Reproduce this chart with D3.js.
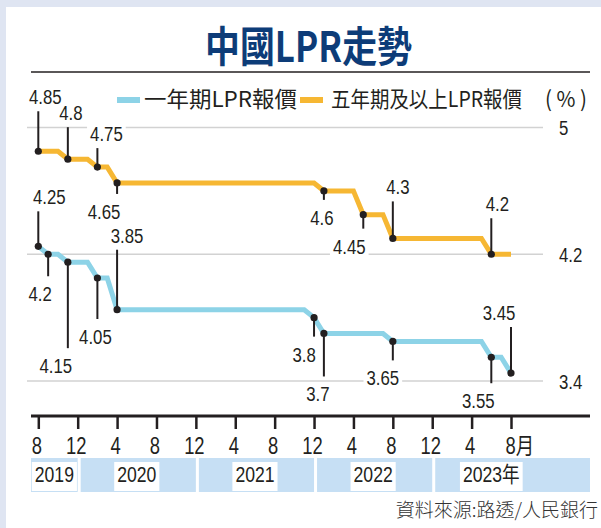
<!DOCTYPE html>
<html>
<head>
<meta charset="utf-8">
<script src="https://cdn.jsdelivr.net/npm/d3@7"></script>
<style>
  body { margin: 0; background: #dfe5f2; }
  svg { display: block; }
  .num { font-family: "Liberation Sans", Arial, "Noto Sans CJK TC", sans-serif; }
  .cjk { font-family: "Noto Sans CJK TC", "Noto Sans CJK SC", sans-serif; }
</style>
</head>
<body>
<svg id="chart"></svg>
<script>
// monthly readings, Aug 2019 .. Aug 2023
const months = [
    "2019-08", "2019-09", "2019-10", "2019-11", "2019-12",
    "2020-01", "2020-02", "2020-03", "2020-04", "2020-05", "2020-06", "2020-07", "2020-08", "2020-09", "2020-10", "2020-11", "2020-12",
    "2021-01", "2021-02", "2021-03", "2021-04", "2021-05", "2021-06", "2021-07", "2021-08", "2021-09", "2021-10", "2021-11", "2021-12",
    "2022-01", "2022-02", "2022-03", "2022-04", "2022-05", "2022-06", "2022-07", "2022-08", "2022-09", "2022-10", "2022-11", "2022-12",
    "2023-01", "2023-02", "2023-03", "2023-04", "2023-05", "2023-06", "2023-07", "2023-08"
]

const oneYear = [
    4.25, 4.20, 4.20, 4.15, 4.15,
    4.15, 4.05, 4.05, 3.85, 3.85, 3.85, 3.85, 3.85, 3.85, 3.85, 3.85, 3.85,
    3.85, 3.85, 3.85, 3.85, 3.85, 3.85, 3.85, 3.85, 3.85, 3.85, 3.85, 3.80,
    3.70, 3.70, 3.70, 3.70, 3.70, 3.70, 3.70, 3.65, 3.65, 3.65, 3.65, 3.65,
    3.65, 3.65, 3.65, 3.65, 3.65, 3.55, 3.55, 3.45
]

const fiveYear = [
    4.85, 4.85, 4.85, 4.80, 4.80,
    4.80, 4.75, 4.75, 4.65, 4.65, 4.65, 4.65, 4.65, 4.65, 4.65, 4.65, 4.65,
    4.65, 4.65, 4.65, 4.65, 4.65, 4.65, 4.65, 4.65, 4.65, 4.65, 4.65, 4.65,
    4.60, 4.60, 4.60, 4.60, 4.45, 4.45, 4.45, 4.30, 4.30, 4.30, 4.30, 4.30,
    4.30, 4.30, 4.30, 4.30, 4.30, 4.20, 4.20, 4.20
]

const tickMonths = ["2019-08", "2019-12", "2020-04", "2020-08", "2020-12", "2021-04", "2021-08",
    "2021-12", "2022-04", "2022-08", "2022-12", "2023-04", "2023-08"]
const tickLabels = ["8", "12", "4", "8", "12", "4", "8", "12", "4", "8", "12", "4", "8月"]

const years = ["2019", "2020", "2021", "2022", "2023"]
const yearLabels = ["2019", "2020", "2021", "2022", "2023年"]

const yTicks = [5, 4.2, 3.4]
const yTickLabels = ["5", "4.2", "3.4"]

// callout layout: leader length (negative = up) and label shift, one per rate change
const fiveYearCallouts = [
    { dy: -40, dx: 7 }, { dy: -32, dx: 3 }, { dy: -19, dx: 9 }, { dy: 11, dx: -13 },
    { dy: 9, dx: -2 }, { dy: 14, dx: -14 }, { dy: -37, dx: 5 }, { dy: -36, dx: 6 }
]
const oneYearCallouts = [
    { dy: -35, dx: 11 }, { dy: 22, dx: -8 }, { dy: 86, dx: -12 }, { dy: 41, dx: -2 },
    { dy: -60, dx: 10 }, { dy: 19, dx: -10 }, { dy: 43, dx: -6 }, { dy: 19, dx: -10 },
    { dy: 26, dx: -13 }, { dy: -46, dx: -12 }
]

const ink = "#231f20"
const cyan = "#8dd3e7"
const orange = "#f6b733"
const squeeze = 0.8   // condensed look for the numbers

const width = 601
const height = 528

// place a text at x,y and squeeze it sideways
function narrow(sel, x, y) {
    sel.attr("x", null).attr("y", null)
        .attr("transform", "translate(" + x + "," + y + ") scale(" + squeeze + ",1)")
    return sel
}

const svg = d3.select("#chart")
    .attr("width", width)
    .attr("height", height)

svg.append("rect")
    .attr("x", 6).attr("y", 7)
    .attr("width", width - 6).attr("height", height - 7)
    .attr("fill", "#fff")

// Title
svg.append("text")
    .attr("class", "cjk")
    .attr("x", 205).attr("y", 62)
    .attr("textLength", 207)
    .attr("lengthAdjust", "spacingAndGlyphs")
    .style("font-size", "42px")
    .style("font-weight", 700)
    .style("fill", "#0d3c78")
    .text("中國LPR走勢")

svg.append("line")
    .attr("x1", 31).attr("x2", 590)
    .attr("y1", 72).attr("y2", 72)
    .attr("stroke", ink)
    .attr("stroke-width", 1.5)

// Legend
let legend = svg.append("g").attr("class", "legend")
let legendItems = [
    { color: cyan, label: "一年期LPR報價", x: 117, len: 153 },
    { color: orange, label: "五年期及以上LPR報價", x: 300, len: 191 }
]
legendItems.forEach(item => {
    legend.append("line")
        .attr("x1", item.x).attr("x2", item.x + 23)
        .attr("y1", 100).attr("y2", 100)
        .attr("stroke", item.color)
        .attr("stroke-width", 6)
    legend.append("text")
        .attr("class", "cjk")
        .attr("x", item.x + 27 + (item.x > 200 ? 4 : 0)).attr("y", 107)
        .attr("textLength", item.len)
        .attr("lengthAdjust", "spacingAndGlyphs")
        .style("font-size", "22px")
        .style("fill", ink)
        .text(item.label)
})
legend.append("text")
    .attr("class", "cjk")
    .attr("x", 545).attr("y", 107)
    .attr("textLength", 42)
    .attr("lengthAdjust", "spacingAndGlyphs")
    .style("font-size", "22px")
    .style("fill", ink)
    .text("( % )")

// Scales
let x = d3.scalePoint()
    .domain(months)
    .range([38.3, 511])

let y = d3.scaleLinear()
    .domain([5, 3.4])
    .range([127.5, 381])

// Gridlines + right-hand labels
let grid = svg.append("g").attr("class", "grid")
yTicks.forEach((v, i) => {
    grid.append("line")
        .attr("x1", 27).attr("x2", 543)
        .attr("y1", y(v)).attr("y2", y(v))
        .attr("stroke", "#d2d2d2")
        .attr("stroke-width", 1.5)
    narrow(grid.append("text"), 559, y(v) + 7.5)
        .attr("class", "num")
        .style("font-size", "21px")
        .style("fill", ink)
        .text(yTickLabels[i])
})

// series
let series = [
    { values: fiveYear, color: orange, callouts: fiveYearCallouts },
    { values: oneYear, color: cyan, callouts: oneYearCallouts }
]

let bgLayer = svg.append("g")
let lineLayer = svg.append("g")
let leaderLayer = svg.append("g")
let labelLayer = svg.append("g")

let line = d3.line()
    .x(d => x(d.month))
    .y(d => y(d.value))

series.forEach(s => {
    let points = months.map((m, i) => ({ month: m, value: s.values[i] }))

    lineLayer.append("path")
        .datum(points)
        .attr("d", line)
        .attr("fill", "none")
        .attr("stroke", s.color)
        .attr("stroke-width", 5)
        .attr("stroke-linejoin", "miter")

    // points where the rate changed get a callout
    let changes = points.filter((p, i) => i === 0 || p.value !== points[i - 1].value)

    changes.forEach((p, i) => {
        let c = s.callouts[i]
        let cx = x(p.month)
        let cy = y(p.value)
        let end = cy + c.dy

        leaderLayer.append("line")
            .attr("x1", cx).attr("x2", cx)
            .attr("y1", cy).attr("y2", end)
            .attr("stroke", ink)
            .attr("stroke-width", 2)
        leaderLayer.append("circle")
            .attr("cx", cx).attr("cy", cy)
            .attr("r", 3.6)
            .attr("fill", ink)

        let label = narrow(labelLayer.append("text"), cx + c.dx, c.dy < 0 ? end - 7 : end + 25)
            .attr("class", "num")
            .attr("text-anchor", "middle")
            .style("font-size", "21px")
            .style("fill", ink)
            .text(String(p.value))

        let box = label.node().getBoundingClientRect()
        bgLayer.append("rect")
            .attr("x", box.left - 3).attr("y", box.top)
            .attr("width", box.width + 6).attr("height", box.height)
            .attr("fill", "#fff")
    })
})

// X axis
svg.append("line")
    .attr("x1", 31).attr("x2", 590)
    .attr("y1", 416).attr("y2", 416)
    .attr("stroke", ink)
    .attr("stroke-width", 3)

let xAxis = svg.append("g")
    .attr("class", "x-axis")
    .attr("transform", "translate(0,416)")
    .call(d3.axisBottom(x)
        .tickValues(tickMonths)
        .tickFormat((d, i) => tickLabels[i])
        .tickSize(13))

xAxis.select(".domain").remove()
xAxis.selectAll(".tick line")
    .attr("stroke", ink)
    .attr("stroke-width", 2.5)
xAxis.selectAll(".tick text")
    .attr("class", "num")
    .attr("dy", null)
    .style("font-size", "23px")
    .style("fill", ink)
    .each(function (d, i) {
        let last = i === tickMonths.length - 1
        narrow(d3.select(this), last ? -6 : -2, 38)
            .attr("text-anchor", last ? "start" : "middle")
    })

// Year band
let band = svg.append("g").attr("class", "year-band")
band.append("rect")
    .attr("x", 31).attr("y", 458)
    .attr("width", 559).attr("height", 34)
    .attr("fill", "#c6dff4")

years.slice(0, -1).forEach(yr => {
    let sx = x(yr + "-12") + 1.5
    band.append("line")
        .attr("x1", sx).attr("x2", sx)
        .attr("y1", 458).attr("y2", 492)
        .attr("stroke", "#fff")
        .attr("stroke-width", 3)
})

years.forEach((yr, i) => {
    let cx = i === 0 ? (31 + x(yr + "-12")) / 2 : x(yr + "-06")
    let boxG = band.append("g")
    let t = narrow(boxG.append("text"), cx, 482)
        .attr("class", "num")
        .attr("text-anchor", "middle")
        .style("font-size", "22px")
        .style("fill", ink)
        .text(yearLabels[i])
    let w = t.node().getComputedTextLength() * squeeze
    boxG.insert("rect", "text")
        .attr("x", cx - w / 2 - 3).attr("y", 462)
        .attr("width", w + 6).attr("height", 29)
        .attr("fill", "#fff")
})

// Source
svg.append("text")
    .attr("class", "cjk")
    .attr("x", 598).attr("y", 517)
    .attr("text-anchor", "end")
    .style("font-size", "19px")
    .style("font-weight", 300)
    .style("fill", "#333")
    .text("資料來源:路透/人民銀行")
</script>
</body>
</html>
